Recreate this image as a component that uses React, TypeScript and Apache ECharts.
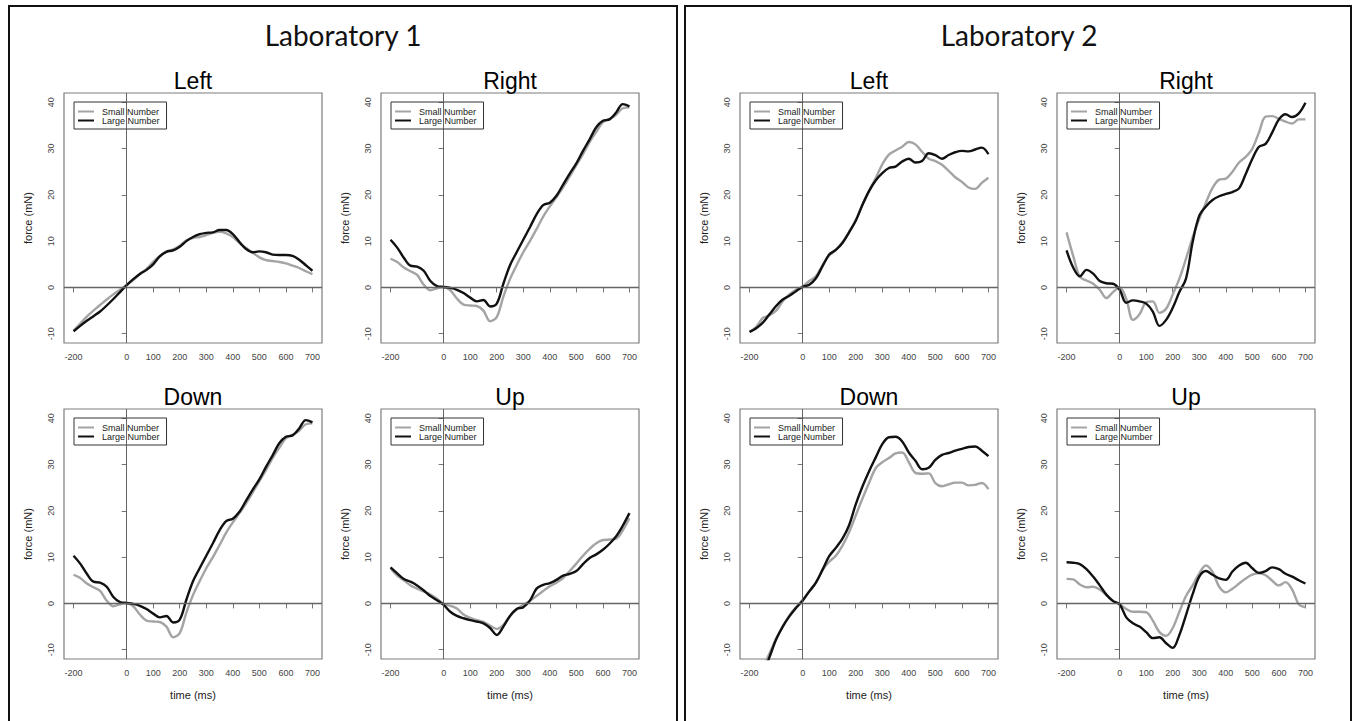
import React, { useEffect, useRef } from "react";
import * as echarts from "echarts";

// ---------- data ----------
const TIME = [-200, -175, -150, -125, -100, -75, -50, -25, 0, 25, 50, 75, 100, 125, 150, 175, 200, 225, 250, 275, 300, 325, 350, 375, 400, 425, 450, 475, 500, 525, 550, 575, 600, 625, 650, 675, 700];
const X_TICKS = [-200, 0, 100, 200, 300, 400, 500, 600, 700];
const Y_TICKS = [-10, 0, 10, 20, 30, 40];
const LAB_TITLES = ["Laboratory 1", "Laboratory 2"];
const DIRECTIONS = ["Left", "Right", "Down", "Up"];
const SERIES_NAMES = ["Small Number", "Large Number"];

const LAB1_LEFT_SMALL = [-9.3, -7.8, -6.3, -5.0, -3.8, -2.6, -1.5, -0.5, 0.5, 1.6, 2.9, 4.0, 5.5, 6.8, 7.8, 8.2, 9.0, 10.2, 10.7, 10.9, 11.3, 11.8, 12.0, 11.7, 10.9, 9.6, 8.5, 7.5, 6.5, 5.9, 5.7, 5.5, 5.2, 4.7, 4.2, 3.5, 2.9];
const LAB1_LEFT_LARGE = [-9.5, -8.3, -7.2, -6.2, -5.2, -3.9, -2.5, -1.0, 0.5, 1.8, 2.9, 3.8, 5.0, 6.7, 7.7, 8.0, 8.8, 10.0, 10.9, 11.5, 11.8, 11.9, 12.4, 12.4, 11.5, 9.8, 8.3, 7.6, 7.8, 7.6, 7.1, 7.0, 7.0, 6.8, 6.0, 4.8, 3.6];
const LAB1_RIGHT_SMALL = [6.2, 5.5, 4.3, 3.5, 2.7, 0.6, -0.6, -0.2, 0.1, -0.6, -2.4, -3.7, -3.9, -4.0, -5.0, -7.3, -6.4, -2.0, 1.8, 4.8, 7.6, 10.0, 12.6, 15.3, 17.5, 19.5, 21.6, 24.0, 26.4, 28.8, 31.4, 33.6, 35.7, 36.4, 37.3, 38.7, 38.9];
const LAB1_RIGHT_LARGE = [10.3, 8.6, 6.4, 4.7, 4.5, 3.6, 1.4, 0.3, 0.1, -0.1, -0.5, -1.2, -2.2, -3.0, -2.7, -4.1, -3.5, 0.8, 4.8, 7.6, 10.3, 13.0, 15.8, 17.8, 18.3, 19.8, 22.2, 24.6, 26.8, 29.5, 32.0, 34.6, 36.0, 36.3, 37.8, 39.6, 39.1];
const LAB1_DOWN_SMALL = [6.2, 5.5, 4.3, 3.5, 2.7, 0.6, -0.6, -0.2, 0.1, -0.6, -2.4, -3.7, -3.9, -4.0, -5.0, -7.3, -6.4, -2.0, 1.8, 4.8, 7.6, 10.0, 12.6, 15.3, 17.5, 19.5, 21.6, 24.0, 26.4, 28.8, 31.4, 33.6, 35.7, 36.4, 37.3, 38.7, 38.9];
const LAB1_DOWN_LARGE = [10.3, 8.6, 6.4, 4.7, 4.5, 3.6, 1.4, 0.3, 0.1, -0.1, -0.5, -1.2, -2.2, -3.0, -2.7, -4.1, -3.5, 0.8, 4.8, 7.6, 10.3, 13.0, 15.8, 17.8, 18.3, 19.8, 22.2, 24.6, 26.8, 29.5, 32.0, 34.6, 36.0, 36.3, 37.8, 39.6, 39.1];
const LAB1_UP_SMALL = [7.6, 6.0, 5.0, 3.9, 3.2, 2.6, 1.9, 1.0, -0.1, -0.5, -1.1, -2.4, -3.1, -3.6, -4.0, -4.8, -5.5, -4.6, -2.7, -1.3, -0.3, 0.6, 1.6, 2.7, 3.7, 4.5, 5.5, 7.0, 8.6, 10.3, 11.8, 13.0, 13.7, 13.8, 14.0, 15.8, 18.4];
const LAB1_UP_LARGE = [7.8, 6.5, 5.3, 4.7, 3.9, 2.8, 1.6, 0.7, -0.3, -1.8, -2.7, -3.2, -3.6, -3.9, -4.3, -5.3, -6.8, -5.0, -2.7, -1.2, -0.8, 0.6, 3.2, 4.0, 4.4, 5.1, 6.0, 6.4, 7.0, 8.5, 9.8, 10.6, 11.6, 12.9, 14.5, 16.8, 19.5];

const LAB2_LEFT_SMALL = [-9.6, -8.5, -6.6, -6.0, -5.0, -3.0, -1.5, -0.5, 0.2, 1.4, 2.4, 4.8, 6.9, 8.1, 9.8, 12.0, 14.5, 17.8, 20.8, 23.6, 26.6, 28.7, 29.6, 30.4, 31.4, 30.9, 29.3, 27.8, 27.3, 26.5, 25.2, 23.8, 22.8, 21.6, 21.3, 22.6, 23.7];
const LAB2_LEFT_LARGE = [-9.6, -8.8, -7.6, -5.8, -4.0, -2.6, -1.8, -0.8, 0.1, 0.6, 2.0, 4.6, 7.1, 8.1, 9.6, 11.9, 14.4, 17.8, 20.8, 23.1, 24.7, 25.8, 26.1, 27.2, 27.8, 27.0, 27.3, 29.0, 28.6, 27.8, 28.6, 29.2, 29.5, 29.4, 29.8, 30.2, 28.8];
const LAB2_RIGHT_SMALL = [11.9, 6.8, 2.3, 1.5, 0.8, -0.5, -2.3, -1.0, 0.0, -2.5, -7.0, -5.8, -3.2, -3.0, -5.5, -4.6, -1.5, 1.9, 6.2, 10.8, 14.8, 18.3, 21.5, 23.3, 23.5, 25.0, 27.0, 28.2, 30.0, 33.5, 36.9, 37.0, 36.4, 35.8, 35.4, 36.3, 36.3];
const LAB2_RIGHT_LARGE = [8.0, 4.3, 2.4, 3.8, 3.0, 1.4, 0.9, 0.8, -0.5, -3.3, -2.8, -3.0, -3.5, -5.2, -8.3, -7.0, -4.4, -1.0, 1.9, 9.8, 15.5, 17.5, 18.9, 19.7, 20.2, 20.6, 21.4, 24.5, 27.8, 30.4, 31.0, 33.5, 36.3, 37.4, 36.8, 37.6, 39.9];
const LAB2_DOWN_SMALL = [-20.0, -17.0, -13.8, -10.8, -7.6, -5.0, -2.6, -0.8, 0.8, 2.6, 4.5, 7.2, 9.0, 10.3, 12.5, 15.4, 19.0, 22.6, 26.0, 29.2, 30.5, 31.4, 32.4, 32.6, 30.5, 28.2, 28.0, 28.1, 26.0, 25.3, 25.7, 26.1, 26.1, 25.5, 25.6, 26.0, 24.7];
const LAB2_DOWN_LARGE = [-21.0, -18.2, -15.2, -11.6, -7.8, -5.0, -2.8, -1.0, 0.6, 2.6, 4.5, 7.3, 10.2, 12.0, 14.0, 16.9, 21.4, 25.2, 28.5, 31.5, 34.4, 35.9, 36.0, 35.0, 32.6, 30.8, 29.0, 29.3, 31.0, 32.1, 32.5, 33.0, 33.4, 33.8, 33.9, 33.0, 31.8];
const LAB2_UP_SMALL = [5.3, 5.2, 4.1, 3.5, 3.6, 3.0, 1.8, 0.6, -0.2, -1.2, -1.8, -1.8, -1.9, -3.7, -6.2, -7.0, -5.3, -1.8, 1.6, 3.9, 6.5, 8.2, 6.8, 3.6, 2.4, 3.2, 4.3, 5.4, 6.2, 6.5, 6.1, 4.9, 3.9, 4.6, 3.0, -0.2, -0.8];
const LAB2_UP_LARGE = [8.9, 8.8, 8.5, 7.4, 5.8, 3.9, 1.9, 0.5, -0.2, -3.0, -4.3, -5.0, -6.2, -7.5, -7.3, -8.6, -9.6, -6.8, -2.5, 2.0, 5.8, 7.0, 6.2, 5.4, 5.1, 6.9, 8.2, 8.8, 7.6, 6.6, 7.0, 7.8, 7.4, 6.4, 5.8, 5.0, 4.3];

const PANELS = [
  { lab: 0, dir: 0, small: LAB1_LEFT_SMALL, large: LAB1_LEFT_LARGE },
  { lab: 0, dir: 1, small: LAB1_RIGHT_SMALL, large: LAB1_RIGHT_LARGE },
  { lab: 0, dir: 2, small: LAB1_DOWN_SMALL, large: LAB1_DOWN_LARGE },
  { lab: 0, dir: 3, small: LAB1_UP_SMALL, large: LAB1_UP_LARGE },
  { lab: 1, dir: 0, small: LAB2_LEFT_SMALL, large: LAB2_LEFT_LARGE },
  { lab: 1, dir: 1, small: LAB2_RIGHT_SMALL, large: LAB2_RIGHT_LARGE },
  { lab: 1, dir: 2, small: LAB2_DOWN_SMALL, large: LAB2_DOWN_LARGE },
  { lab: 1, dir: 3, small: LAB2_UP_SMALL, large: LAB2_UP_LARGE },
];

// ---------- style ----------
const FONT = "'Liberation Sans', Arial, sans-serif";
const GRAY = "#a4a4a4";
const BLACK = "#111111";

export default function App() {
  const ref = useRef<HTMLDivElement>(null);

  useEffect(() => {
    if (!ref.current) return;
    const chart = echarts.init(ref.current, null, { renderer: "svg" });

    const grids: any[] = [];
    const xAxes: any[] = [];
    const yAxes: any[] = [];
    const series: any[] = [];
    const legends: any[] = [];
    const graphics: any[] = [];

    // lab boxes + lab titles
    LAB_TITLES.forEach((t, lab) => {
      graphics.push({
        type: "rect",
        silent: true,
        shape: { x: lab === 0 ? 9 : 685, y: 6, width: lab === 0 ? 668 : 666, height: 725 },
        style: { fill: "none", stroke: "#111", lineWidth: 2 },
      });
      graphics.push({
        type: "text",
        silent: true,
        x: 343 + lab * 676,
        y: 35,
        style: {
          text: t,
          fontSize: 28,
          fontFamily: "Lato, 'Open Sans', sans-serif",
          fill: "#111",
          align: "center",
          verticalAlign: "middle",
          textAlign: "center",
          textVerticalAlign: "middle",
        },
      });
    });

    PANELS.forEach((p, i) => {
      const col = p.dir % 2;
      const row = Math.floor(p.dir / 2);
      const left = 64 + p.lab * 676 + col * 317;
      const top = 93 + row * 316;
      const width = 258;
      const height = 250;

      grids.push({ left, top, width, height, show: true, borderColor: "#7d7d7d", borderWidth: 1.2, backgroundColor: "transparent" });

      xAxes.push({
        type: "value",
        gridIndex: i,
        min: -236,
        max: 736,
        axisLine: { show: false },
        splitLine: { show: false },
        axisTick: { show: true, inside: false, length: 5, lineStyle: { color: "#777", width: 1 }, customValues: X_TICKS },
        axisLabel: { customValues: X_TICKS, fontSize: 9, color: "#444", margin: 9, fontFamily: FONT },
        name: row === 1 ? "time (ms)" : "",
        nameLocation: "middle",
        nameGap: 30,
        nameTextStyle: { fontSize: 11, color: "#222", fontFamily: FONT },
      });

      yAxes.push({
        type: "value",
        gridIndex: i,
        min: -12,
        max: 42,
        axisLine: { show: false },
        splitLine: { show: false },
        axisTick: { show: true, inside: false, length: 5, lineStyle: { color: "#777", width: 1 }, customValues: Y_TICKS },
        axisLabel: { customValues: Y_TICKS, fontSize: 9, color: "#444", margin: 9, rotate: 90, fontFamily: FONT },
        name: "force (mN)",
        nameLocation: "middle",
        nameGap: 31,
        nameTextStyle: { fontSize: 11, color: "#222", fontFamily: FONT },
      });

      series.push({
        type: "line",
        name: SERIES_NAMES[0],
        xAxisIndex: i,
        yAxisIndex: i,
        data: TIME.map((t, k) => [t, p.small[k]]),
        symbol: "none",
        smooth: 0.35,
        clip: true,
        lineStyle: { color: GRAY, width: 2.4 },
        itemStyle: { color: GRAY },
        z: 3,
        markLine: {
          silent: true,
          symbol: ["none", "none"],
          label: { show: false },
          animation: false,
          data: [
            { yAxis: 0, lineStyle: { color: "#666", width: 1.4, type: "solid" } },
            { xAxis: 0, lineStyle: { color: "#555", width: 0.9, type: "solid" } },
          ],
        },
      });
      series.push({
        type: "line",
        name: SERIES_NAMES[1],
        xAxisIndex: i,
        yAxisIndex: i,
        data: TIME.map((t, k) => [t, p.large[k]]),
        symbol: "none",
        smooth: 0.35,
        clip: true,
        lineStyle: { color: BLACK, width: 2.4 },
        itemStyle: { color: BLACK },
        z: 4,
      });

      legends.push({
        show: true,
        data: SERIES_NAMES,
        orient: "vertical",
        left: left + 10,
        top: top + 9,
        itemWidth: 16,
        itemHeight: 9,
        itemGap: 0,
        padding: [5, 7, 4, 3],
        borderColor: "#333",
        borderWidth: 1,
        borderRadius: 0,
        selectedMode: false,
        itemStyle: { opacity: 0, borderWidth: 0 },
        lineStyle: { width: 2 },
        textStyle: { fontSize: 9, fontFamily: FONT, color: "#222", padding: [0, 0, 0, 3] },
      });

      graphics.push({
        type: "text",
        silent: true,
        x: left + width / 2,
        y: 81 + row * 316,
        style: {
          text: DIRECTIONS[p.dir],
          fontSize: 23,
          fontFamily: FONT,
          fill: "#000",
          align: "center",
          verticalAlign: "middle",
          textAlign: "center",
          textVerticalAlign: "middle",
        },
      });
    });

    chart.setOption({
      animation: false,
      backgroundColor: "#ffffff",
      grid: grids,
      xAxis: xAxes,
      yAxis: yAxes,
      series,
      legend: legends,
      graphic: graphics,
    });

    return () => chart.dispose();
  }, []);

  return <div ref={ref} style={{ position: "absolute", left: 0, top: 0, width: 1356, height: 721, background: "#fff" }} />;
}
